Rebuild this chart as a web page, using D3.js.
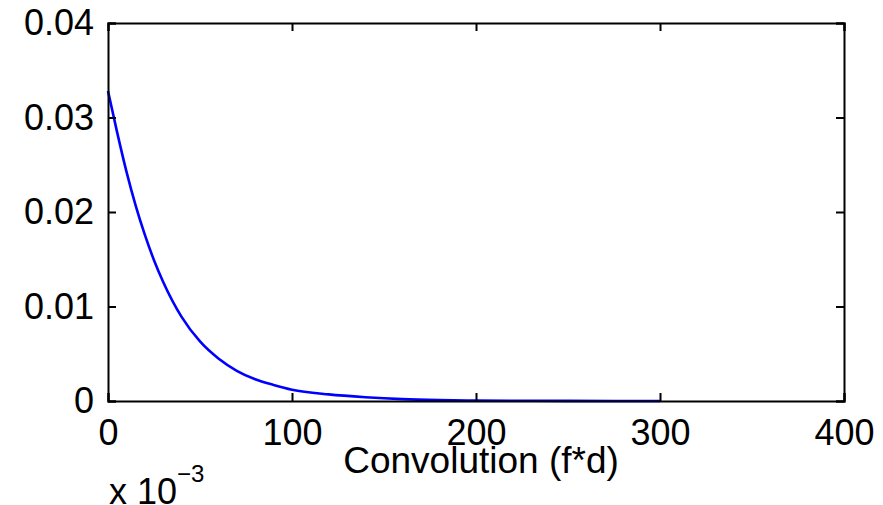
<!DOCTYPE html>
<html>
<head>
<meta charset="utf-8">
<script src="https://cdn.jsdelivr.net/npm/d3@7"></script>
<style>
  body { margin: 0; background: #fff; }
  svg { display: block; }
  text { font-family: "Liberation Sans", Arial, Helvetica, sans-serif; fill: #000; }
</style>
</head>
<body>
<script>
// values (x axis shown in units of 1e-3)
var xValues = [0, 5, 10, 15, 20, 25, 30, 40, 50, 60, 70, 80, 90, 100, 120, 140, 160, 180, 200, 250, 300];
var yValues = [0.0328, 0.0284, 0.0243, 0.0207, 0.0176, 0.0149, 0.0126, 0.0089, 0.0063, 0.0045, 0.0032,
               0.0023, 0.0017, 0.0012, 0.0007, 0.0004, 0.0002, 0.0001, 0.00005, 0.00001, 0];
var xTicks = [0, 100, 200, 300, 400];
var yTicks = [0, 0.01, 0.02, 0.03, 0.04];

var width = 883, height = 505;
// plot box (don't use "top" as a global, it's window.top)
var box = { left: 108, right: 844, top: 23, bottom: 401 };
var fontSize = 36;

var svg = d3.select("body").append("svg")
  .attr("width", width)
  .attr("height", height);

var x = d3.scaleLinear().domain([0, 400]).range([box.left, box.right]);
var y = d3.scaleLinear().domain([0, 0.04]).range([box.bottom, box.top]);

// title, almost all of it above the visible area
svg.append("text")
  .attr("x", 512).attr("y", -6)
  .attr("text-anchor", "middle")
  .style("font-size", "30px")
  .style("fill", "#bbb")
  .text("Signal g(t) * p(t)");

// the curve
var line = d3.line()
  .x(function(d, i) { return x(xValues[i]); })
  .y(function(d) { return y(d); })
  .curve(d3.curveMonotoneX);

svg.append("path")
  .datum(yValues)
  .attr("fill", "none")
  .attr("stroke", "#0000ff")
  .attr("stroke-width", 2.6)
  .attr("d", line);

// axes (ticks inside, MATLAB box style)
var fmtY = function(d) { return d === 0 ? "0" : d3.format(".2f")(d); };

var gx = svg.append("g").attr("transform", "translate(0," + box.bottom + ")")
  .call(d3.axisBottom(x).tickValues(xTicks).tickSize(-8).tickPadding(18));
var gxTop = svg.append("g").attr("transform", "translate(0," + box.top + ")")
  .call(d3.axisTop(x).tickValues(xTicks).tickSize(-8).tickFormat(""));
var gy = svg.append("g").attr("transform", "translate(" + box.left + ",0)")
  .call(d3.axisLeft(y).tickValues(yTicks).tickSize(-8).tickPadding(14).tickFormat(fmtY));
var gyRight = svg.append("g").attr("transform", "translate(" + box.right + ",0)")
  .call(d3.axisRight(y).tickValues(yTicks).tickSize(-8).tickFormat(""));

[gx, gxTop, gy, gyRight].forEach(function(g) {
  g.select(".domain").attr("stroke", "#000").attr("stroke-width", 2);
  g.selectAll(".tick line").attr("stroke", "#000").attr("stroke-width", 2);
  g.selectAll("text").style("font-size", fontSize + "px").attr("fill", "#000")
    .style("font-family", "'Liberation Sans', Arial, sans-serif");
});

// axis label
svg.append("text")
  .attr("x", 481).attr("y", 473)
  .attr("text-anchor", "middle")
  .style("font-size", "37px")
  .text("Convolution (f*d)");

// exponent label
var expo = svg.append("text")
  .attr("x", 109).attr("y", 504)
  .style("font-size", fontSize + "px");
expo.append("tspan").text("x 10");
expo.append("tspan").attr("dy", -22).style("font-size", "24px").text("\u22123");
</script>
</body>
</html>
